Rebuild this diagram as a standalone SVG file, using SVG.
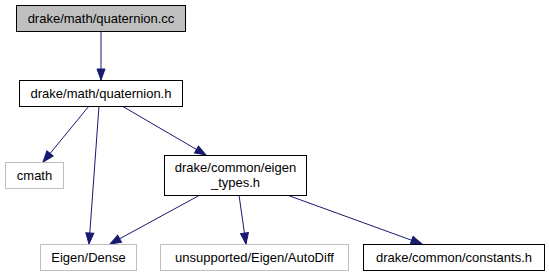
<svg xmlns="http://www.w3.org/2000/svg" width="549" height="276" viewBox="0 0 549 276">
  <style>
    .box { fill: #ffffff; stroke: #000000; stroke-width: 1; }
    .ext { fill: #ffffff; stroke: #bfbfbf; stroke-width: 1; }
    .cur { fill: #bfbfbf; stroke: #000000; stroke-width: 1; }
    text { font-family: "Liberation Sans", Arial, sans-serif; font-size: 13px; fill: #000000; text-anchor: middle; }
    .edge { fill: none; stroke: #191970; stroke-width: 1; }
  </style>
  <defs>
    <marker id="arrow" viewBox="-1 -1 13 11" refX="11" refY="4.5" markerWidth="13" markerHeight="11" markerUnits="userSpaceOnUse" orient="auto">
      <path d="M0,0.5 L11,4.5 L0,8.5 Z" fill="#191970" stroke="#191970" stroke-width="1"/>
    </marker>
  </defs>
  <rect width="549" height="276" fill="#ffffff"/>

  <g id="edges">
    <path class="edge" d="M101,32 L101,80" marker-end="url(#arrow)"/>
    <path class="edge" d="M89,106 L43,162" marker-end="url(#arrow)"/>
    <path class="edge" d="M99,106 L89,244" marker-end="url(#arrow)"/>
    <path class="edge" d="M122,106 L206,155" marker-end="url(#arrow)"/>
    <path class="edge" d="M200,195 L110,244" marker-end="url(#arrow)"/>
    <path class="edge" d="M239,195 L246,244" marker-end="url(#arrow)"/>
    <path class="edge" d="M287,195 L422,244" marker-end="url(#arrow)"/>
  </g>

  <g id="node-quaternion-cc">
    <rect class="cur" x="16.5" y="5.5" width="169" height="26"/>
    <text x="101" y="23">drake/math/quaternion.cc</text>
  </g>
  <g id="node-quaternion-h">
    <rect class="box" x="19.5" y="80.5" width="163" height="26"/>
    <text x="101" y="98">drake/math/quaternion.h</text>
  </g>
  <g id="node-cmath">
    <rect class="ext" x="5.5" y="162.5" width="58" height="26"/>
    <text x="34.5" y="180">cmath</text>
  </g>
  <g id="node-eigen-types">
    <rect class="box" x="164.5" y="155.5" width="142" height="40"/>
    <text x="235.5" y="172">drake/common/eigen</text>
    <text x="235.5" y="187">_types.h</text>
  </g>
  <g id="node-eigen-dense">
    <rect class="ext" x="40.5" y="244.5" width="96" height="26"/>
    <text x="88.5" y="262">Eigen/Dense</text>
  </g>
  <g id="node-autodiff">
    <rect class="ext" x="160.5" y="244.5" width="188" height="26"/>
    <text x="254.5" y="262">unsupported/Eigen/AutoDiff</text>
  </g>
  <g id="node-constants">
    <rect class="box" x="363.5" y="244.5" width="181" height="26"/>
    <text x="454" y="262">drake/common/constants.h</text>
  </g>
</svg>
